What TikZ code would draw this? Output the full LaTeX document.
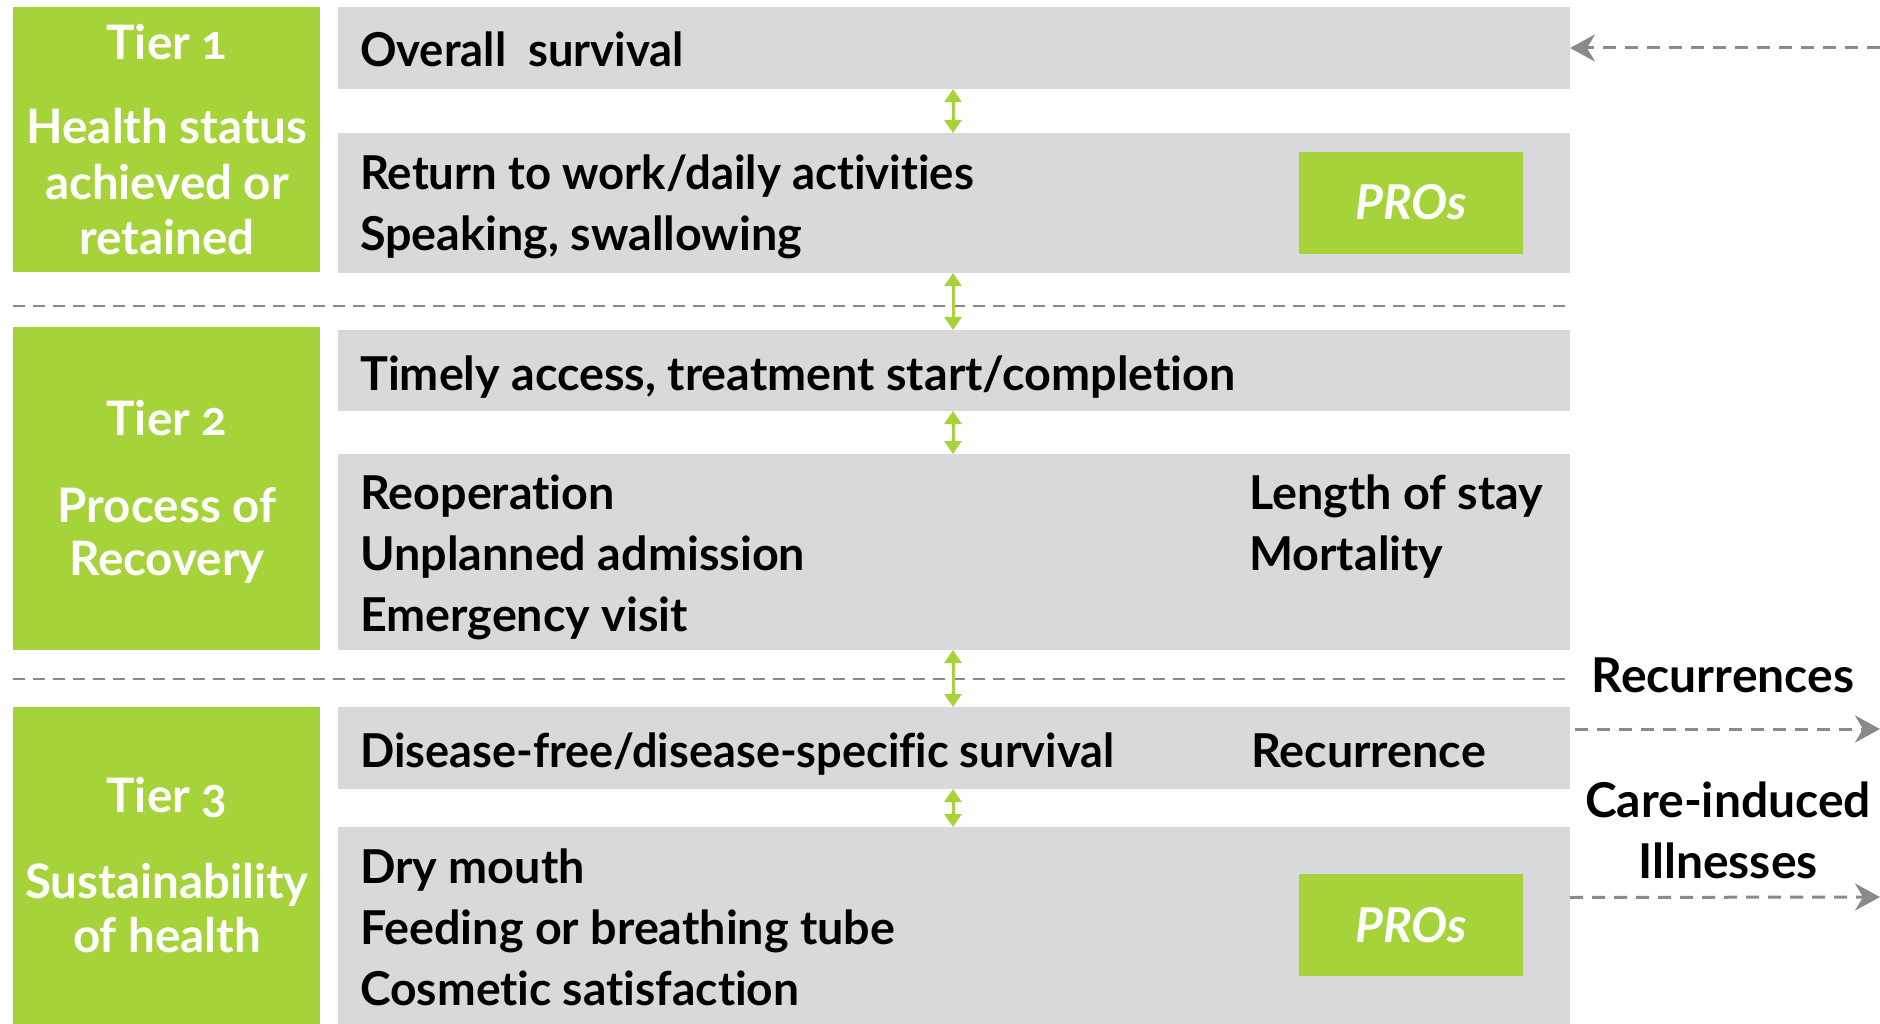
\documentclass[tikz,border=0pt]{standalone}
\usepackage{fontspec}
\setmainfont{Lato}[Numbers=OldStyle, Ligatures=NoCommon]
\usetikzlibrary{arrows.meta,calc}
\definecolor{tiergreen}{HTML}{A7D33A}
\definecolor{rowgray}{HTML}{D8D9DB}
\definecolor{dashgray}{HTML}{8A8A8A}
\begin{document}
\begin{tikzpicture}[x=1pt,y=-1pt,
  block/.style={inner sep=0pt, outer sep=0pt, anchor=north west, draw=none},
  tierbox/.style={block, fill=tiergreen},
  rowbox/.style={block, fill=rowgray},
  probox/.style={block, fill=tiergreen, text=white, text height=34pt, text depth=0pt,
    font=\fontsize{48}{56}\selectfont\bfseries\itshape},
  tierline/.style={anchor=base, inner sep=0pt, text=white,
    font=\fontsize{47.5}{54}\selectfont\bfseries},
  rowline/.style={anchor=base west, inner sep=0pt,
    font=\fontsize{46.7}{56}\selectfont\bfseries},
  tight/.style={xscale=#1, transform shape},
  sideline/.style={anchor=base, inner sep=0pt,
    font=\fontsize{48}{56}\selectfont\bfseries},
  link/.style={tiergreen, line width=3pt,
    {Triangle[width=17pt,length=13pt]}-{Triangle[width=17pt,length=13pt]}},
  divider/.style={dashgray, line width=2pt, dash pattern=on 12pt off 8pt},
  flow/.style={dashgray, line width=3pt, dash pattern=on 13pt off 9pt,
    -{Stealth[length=25pt,width=27pt,inset=8pt]}}
]
\useasboundingbox (0,0) rectangle (1880,1024);

% tier labels
\node[tierbox, minimum width=307pt, minimum height=265pt] (t1) at (13,7) {};
\node[tierbox, minimum width=307pt, minimum height=323pt] (t2) at (13,327) {};
\node[tierbox, minimum width=307pt, minimum height=317pt] (t3) at (13,707) {};

\node[tierline] (t1a) at (167,60)  {Tier 1};
\node[tierline] (t1b) at (167,144) {Health status};
\node[tierline] (t1c) at (167,200) {achieved or};
\node[tierline] (t1d) at (167,255) {retained};
\node[tierline] (t2a) at (167,435) {Tier 2};
\node[tierline] (t2b) at (167,522) {Process of};
\node[tierline] (t2c) at (167,575) {Recovery};
\node[tierline] (t3a) at (167,812) {Tier 3};
\node[tierline] (t3b) at (167,898) {Sustainability};
\node[tierline] (t3c) at (167,952) {of health};

% outcome rows
\node[rowbox, minimum width=1232pt, minimum height=82pt]  (r1) at (338,7) {};
\node[rowbox, minimum width=1232pt, minimum height=140pt] (r2) at (338,133) {};
\node[rowbox, minimum width=1232pt, minimum height=81pt]  (r3) at (338,330) {};
\node[rowbox, minimum width=1232pt, minimum height=196pt] (r4) at (338,454) {};
\node[rowbox, minimum width=1232pt, minimum height=82pt]  (r5) at (338,707) {};
\node[rowbox, minimum width=1232pt, minimum height=197pt] (r6) at (338,827) {};

\node[probox, minimum width=224pt, minimum height=102pt] (p1) at (1299,152) {PROs};
\node[probox, minimum width=224pt, minimum height=102pt] (p2) at (1299,874) {PROs};

\node[rowline, tight=0.97]  (x1)  at (360,67)   {Overall\ \ survival};
\node[rowline, tight=0.975] (x2a) at (360,190)  {Return to work/daily activities};
\node[rowline] (x2b) at (360,251)  {Speaking, swallowing};
\node[rowline] (x3)  at (360,390)  {Timely access, treatment start/completion};
\node[rowline] (x4a) at (360,509)  {Reoperation};
\node[rowline] (x4b) at (360,570)  {Unplanned admission};
\node[rowline] (x4c) at (360,631)  {Emergency visit};
\node[rowline] (x4d) at (1249,509) {Length of stay};
\node[rowline] (x4e) at (1249,570) {Mortality};
\node[rowline, tight=0.965] (x5a) at (360,767)  {Disease-free/disease-specific survival};
\node[rowline] (x5b) at (1251,767) {Recurrence};
\node[rowline] (x6a) at (360,883)  {Dry mouth};
\node[rowline] (x6b) at (360,944)  {Feeding or breathing tube};
\node[rowline, tight=0.99] (x6c) at (360,1005) {Cosmetic satisfaction};

% tier separators
\coordinate (d1a) at (13,306);
\coordinate (d1b) at (1566,306);
\coordinate (d2a) at (13,679);
\coordinate (d2b) at (1566,679);
\draw[divider] (d1a) -- (d1b);
\draw[divider] (d2a) -- (d2b);

% links between rows
\coordinate (ax) at (953,0);
\draw[link] (r1.south -| ax) -- (r2.north -| ax);
\draw[link] (r2.south -| ax) -- (r3.north -| ax);
\draw[link] (r3.south -| ax) -- (r4.north -| ax);
\draw[link] (r4.south -| ax) -- (r5.north -| ax);
\draw[link] (r5.south -| ax) -- (r6.north -| ax);

% side labels and flows
\node[sideline] (rec)   at (1723,692) {Recurrences};
\node[sideline] (carea) at (1728,817) {Care-induced};
\node[sideline] (careb) at (1728,878) {Illnesses};

\coordinate (inflow) at (1880,48);
\coordinate (recout) at (1880,729);
\coordinate (careout) at (1880,897);
\draw[flow] (inflow) -- (r1.east);
\draw[flow] ([shift={(5,-19)}]r5.east) -- (recout);
\draw[flow] ([shift={(0,-28)}]r6.east) -- (careout);
\end{tikzpicture}
\end{document}
